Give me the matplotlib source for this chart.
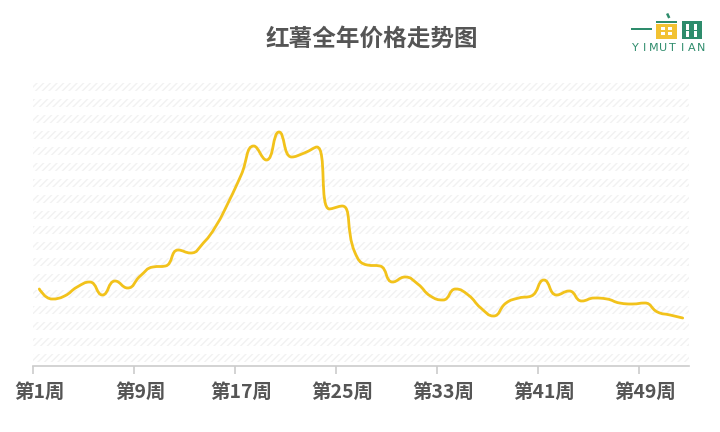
import matplotlib
matplotlib.use('Agg')
import matplotlib.pyplot as plt
from matplotlib.path import Path
from matplotlib.patches import PathPatch, Rectangle
import numpy as np

plt.rcParams['font.family'] = ['Noto Sans CJK SC', 'DejaVu Sans']
plt.rcParams['hatch.linewidth'] = 1.0

# ---------------- data ----------------
weeks = [f'第{i}周' for i in range(1, 53)]
prices = [0.77, 0.67, 0.70, 0.79, 0.84, 0.71, 0.85, 0.78, 0.90, 0.99,
          1.00, 1.16, 1.13, 1.23, 1.40, 1.64, 1.91, 2.20, 2.06, 2.34,
          2.09, 2.13, 2.19, 1.57, 1.60, 1.14, 1.01, 1.00, 0.84, 0.89,
          0.82, 0.70, 0.66, 0.77, 0.71, 0.58, 0.50, 0.63, 0.68, 0.70,
          0.86, 0.71, 0.75, 0.65, 0.68, 0.67, 0.63, 0.62, 0.63, 0.54,
          0.51, 0.48]
label_weeks = [1, 9, 17, 25, 33, 41, 49]
title = '红薯全年价格走势图'

W, H = 720, 432
fig = plt.figure(figsize=(W / 100, H / 100), dpi=100)
fig.patch.set_facecolor('white')

ax_top_px, ax_bot_px, ax_l_px, ax_r_px = 80, 366, 33, 689
ax = fig.add_axes([ax_l_px / W, 1 - ax_bot_px / H,
                   (ax_r_px - ax_l_px) / W, (ax_bot_px - ax_top_px) / H])
ax.set_xlim(0.5, len(weeks) + 0.5)
ax.set_ylim(0, 2.86)

# hatched background bands
ah = ax_bot_px - ax_top_px
for i in range(18):
    y0 = (4 + 15.94 * i) / ah
    ax.add_patch(Rectangle((0, y0), 1, 8 / ah, transform=ax.transAxes,
                           facecolor='none', hatch='/////', edgecolor='#f2f2f2',
                           lw=0, zorder=0))

# smooth line (echarts-like bezier smoothing)
xs = np.arange(1, len(prices) + 1, dtype=float)
ys = np.array(prices, dtype=float)
sx = (ax_r_px - ax_l_px) / len(weeks)
sy = ah / 2.86
smooth = 0.5
n = len(xs)
cp_prev = [(xs[i], ys[i]) for i in range(n)]
cp_next = [(xs[i], ys[i]) for i in range(n)]
for i in range(1, n - 1):
    px_, py_ = xs[i - 1], ys[i - 1]
    x, y = xs[i], ys[i]
    nx, ny = xs[i + 1], ys[i + 1]
    vx, vy = nx - px_, ny - py_
    d0 = np.hypot((x - px_) * sx, (y - py_) * sy)
    d1 = np.hypot((nx - x) * sx, (ny - y) * sy)
    r = d1 / (d0 + d1)
    cnx = x + vx * smooth * r
    cny = y + vy * smooth * r
    cnx = min(max(cnx, min(x, nx)), max(x, nx))
    cny = min(max(cny, min(y, ny)), max(y, ny))
    vx, vy = cnx - x, cny - y
    cpx = x - vx * d0 / d1
    cpy = y - vy * d0 / d1
    cpx = min(max(cpx, min(x, px_)), max(x, px_))
    cpy = min(max(cpy, min(y, py_)), max(y, py_))
    vx, vy = x - cpx, y - cpy
    cnx = x + vx * d1 / d0
    cny = y + vy * d1 / d0
    cp_prev[i] = (cpx, cpy)
    cp_next[i] = (cnx, cny)

verts = [(xs[0], ys[0])]
codes = [Path.MOVETO]
for i in range(n - 1):
    verts += [cp_next[i], cp_prev[i + 1], (xs[i + 1], ys[i + 1])]
    codes += [Path.CURVE4] * 3
ax.add_patch(PathPatch(Path(verts, codes), facecolor='none',
                       edgecolor='#F2C21B', lw=2.0, zorder=3,
                       capstyle='round', joinstyle='round'))

# axes styling
for s in ['top', 'right', 'left']:
    ax.spines[s].set_visible(False)
ax.spines['bottom'].set_color('#cccccc')
ax.spines['bottom'].set_linewidth(1.2)
ax.set_yticks([])
ax.set_xticks(label_weeks)
ax.set_xticklabels([weeks[w - 1] for w in label_weeks])
ax.tick_params(axis='x', which='major', length=0, pad=12,
               labelsize=14, labelcolor='#555555')
for lab in ax.get_xticklabels():
    lab.set_fontweight('bold')
ax.set_xticks([0.5 + 8 * k for k in range(7)], minor=True)
ax.tick_params(axis='x', which='minor', length=6, width=1.2, color='#cccccc')
ax.patch.set_alpha(0)

# title
fig.text(372 / W, 1 - 39 / H, title, ha='center', va='center',
         fontsize=17, fontweight='bold', color='#555555')

# logo (overlay in pixel space)
ov = fig.add_axes([0, 0, 1, 1])
ov.set_xlim(0, W)
ov.set_ylim(H, 0)
ov.axis('off')
ov.patch.set_alpha(0)
green = '#2E8C6C'
yellow = '#F2C232'
ov.add_patch(Rectangle((631, 27.5), 21, 2.2, color=green, lw=0))
ov.add_patch(Rectangle((656, 20.5), 21, 2.2, color=green, lw=0))
ov.add_patch(Rectangle((656, 23.5), 21, 15, color=yellow, lw=0))
for wx in (661, 668):
    for wy in (27, 32):
        ov.add_patch(Rectangle((wx, wy), 3.5, 3, color='white', lw=0))
ov.add_patch(Rectangle((666, 14), 2.5, 5, color=green, lw=0, angle=-25))
ov.add_patch(Rectangle((682, 21), 20, 17.5, color=green, lw=0))
for wx in (686, 694):
    for wy in (24, 31):
        ov.add_patch(Rectangle((wx, wy), 3, 5.5, color='white', lw=0))
for k, ch in enumerate('YIMUTIAN'):
    ov.text(635.5 + k * 9.3, 48, ch, ha='center', va='center', fontsize=8,
            color=green, family=['DejaVu Sans'])

fig.savefig('out.png', dpi=100, facecolor='white')
